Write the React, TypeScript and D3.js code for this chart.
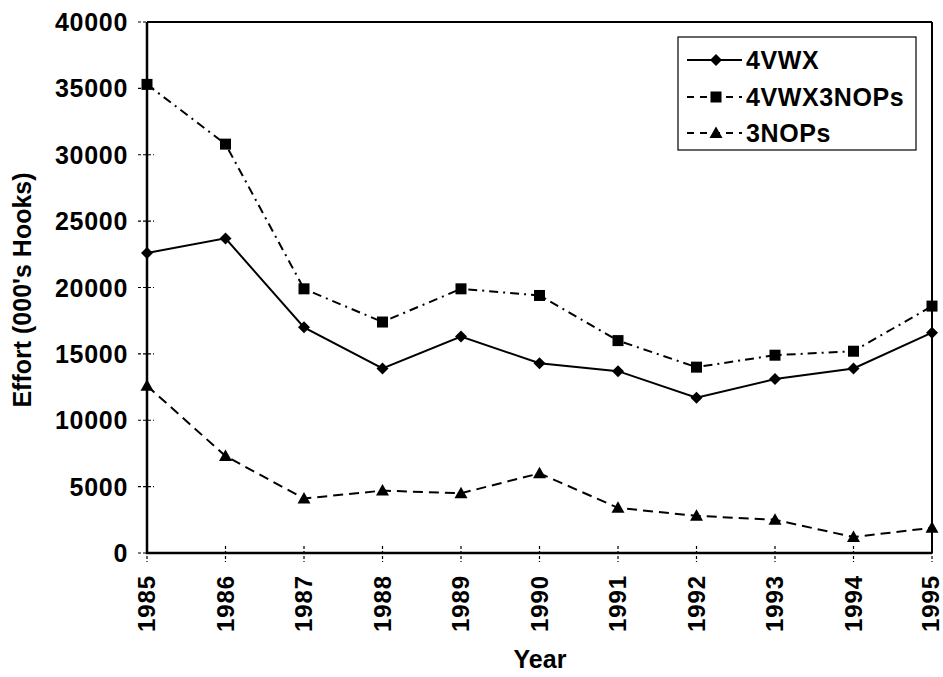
import React from "react";
import * as d3 from "d3";

const years = [1985, 1986, 1987, 1988, 1989, 1990, 1991, 1992, 1993, 1994, 1995];
const s4VWX = [22600, 23700, 17000, 13900, 16300, 14300, 13700, 11700, 13100, 13900, 16600];
const s4VWX3NOPs = [35300, 30800, 19900, 17400, 19900, 19400, 16000, 14000, 14900, 15200, 18600];
const s3NOPs = [12600, 7300, 4100, 4700, 4500, 6000, 3400, 2800, 2500, 1200, 1900];
const yTicks = [0, 5000, 10000, 15000, 20000, 25000, 30000, 35000, 40000];
const seriesNames = ["4VWX", "4VWX3NOPs", "3NOPs"];

const W = 943, H = 677;
const L = 147, R = 932, T = 22, B = 553;

export default function App() {
  const x = d3.scaleLinear().domain([1985, 1995]).range([L, R]);
  const y = d3.scaleLinear().domain([0, 40000]).range([B, T]);
  const line = d3.line<number>().x((_, i) => x(years[i])).y((d) => y(d));

  const series = [
    { name: seriesNames[0], data: s4VWX, dash: "none", marker: "diamond" },
    { name: seriesNames[1], data: s4VWX3NOPs, dash: "9,5,2,5", marker: "square" },
    { name: seriesNames[2], data: s3NOPs, dash: "10,6", marker: "triangle" },
  ];

  const marker = (type: string, cx: number, cy: number, key: any) => {
    if (type === "diamond")
      return <path key={key} d={`M${cx},${cy - 6}L${cx + 6},${cy}L${cx},${cy + 6}L${cx - 6},${cy}Z`} fill="#000" />;
    if (type === "square")
      return <rect key={key} x={cx - 5.5} y={cy - 5.5} width={11} height={11} fill="#000" />;
    return <path key={key} d={`M${cx},${cy - 6.5}L${cx + 6.5},${cy + 5}L${cx - 6.5},${cy + 5}Z`} fill="#000" />;
  };

  const font = "'Liberation Sans', Arial, Helvetica, sans-serif";
  const legendRows = [60, 97, 133];

  return (
    <svg width={W} height={H} style={{ position: "absolute", left: 0, top: 0, background: "#fff" }} fontFamily={font}>
      <rect x={0} y={0} width={W} height={H} fill="#fff" />
      {yTicks.map((t) => (
        <line key={"yt" + t} x1={L - 9} x2={L + 7} y1={y(t)} y2={y(t)} stroke="#000" strokeWidth={1.2} strokeDasharray="3,2" />
      ))}
      {years.map((yr) => (
        <line key={"xt" + yr} x1={x(yr)} x2={x(yr)} y1={B - 7} y2={B + 9} stroke="#000" strokeWidth={1.2} strokeDasharray="3,2" />
      ))}
      <line x1={L} x2={R} y1={T} y2={T} stroke="#000" strokeWidth={2} />
      <line x1={R} x2={R} y1={T} y2={B} stroke="#000" strokeWidth={2} />
      <line x1={L} x2={L} y1={T} y2={B + 1} stroke="#000" strokeWidth={2.5} />
      <line x1={L - 1} x2={R} y1={B} y2={B} stroke="#000" strokeWidth={2.5} />
      {yTicks.map((t) => (
        <text key={"yl" + t} x={128} y={y(t)} dy="0.36em" textAnchor="end" fontSize={25} fontWeight="bold" letterSpacing={0.7}>
          {t}
        </text>
      ))}
      {years.map((yr) => (
        <text key={"xl" + yr} transform={`translate(${Math.min(x(yr), 931)},${575}) rotate(-90)`} dy="0.35em" textAnchor="end" fontSize={24} fontWeight="bold" letterSpacing={0.9}>
          {yr}
        </text>
      ))}
      <text transform={`translate(22,290) rotate(-90)`} dy="0.36em" textAnchor="middle" fontSize={25} fontWeight="bold">
        Effort (000's Hooks)
      </text>
      <text x={540} y={668} textAnchor="middle" fontSize={25} fontWeight="bold">
        Year
      </text>
      {series.map((s) => (
        <g key={s.name}>
          <path d={line(s.data) || ""} fill="none" stroke="#000" strokeWidth={2} strokeDasharray={s.dash} />
          {s.data.map((v, i) => marker(s.marker, x(years[i]), y(v), i))}
        </g>
      ))}
      <rect x={678} y={37} width={238} height={113} fill="#fff" stroke="#000" strokeWidth={1.2} />
      {series.map((s, i) => (
        <g key={"lg" + s.name}>
          <line x1={687} x2={742} y1={legendRows[i]} y2={legendRows[i]} stroke="#000" strokeWidth={2} strokeDasharray={s.dash === "none" ? "none" : "7,6"} />
          {marker(s.marker, 716, legendRows[i], "m")}
          <text x={746} y={legendRows[i]} dy="0.36em" fontSize={25} fontWeight="bold" letterSpacing={0.6}>
            {s.name}
          </text>
        </g>
      ))}
    </svg>
  );
}
